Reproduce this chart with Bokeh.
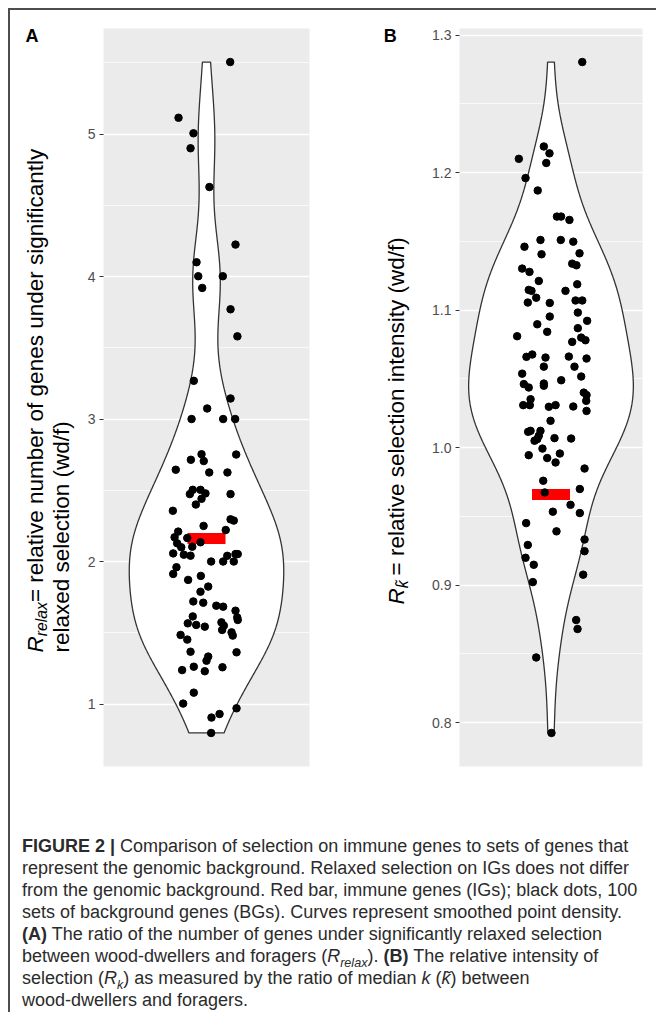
import numpy as np
from bokeh.plotting import figure
from bokeh.models import FixedTicker, Div, Spacer, Range1d
from bokeh.core.properties import value
from bokeh.layouts import row, column
from bokeh.embed import file_html
from bokeh.resources import INLINE

# ---------------- data ----------------
# Panel A: R_relax for 100 background gene sets (BGs) + immune genes (IGs)
a_values = [5.505, 5.114, 5.005, 4.90, 4.628, 4.224, 4.10, 4.002, 4.002, 3.92,
            3.77, 3.58, 3.268, 3.144, 3.074, 3.0, 3.0, 3.0, 2.751, 2.753,
            2.714, 2.705, 2.644, 2.625, 2.625, 2.473, 2.503, 2.503, 2.478, 2.44,
            2.40, 2.473, 2.356, 2.296, 2.287, 2.25, 2.221, 2.21, 2.17, 2.165,
            2.135, 2.128, 2.10, 2.104, 2.057, 2.048, 2.041, 2.0, 2.0, 2.04,
            2.052, 2.052, 2.0, 1.96, 1.913, 1.871, 1.899, 1.824, 1.788, 1.72,
            1.711, 1.69, 1.683, 1.655, 1.615, 1.608, 1.59, 1.566, 1.555, 1.543,
            1.573, 1.55, 1.52, 1.503, 1.48, 1.485, 1.452, 1.367, 1.363, 1.333,
            1.304, 1.262, 1.238, 1.23, 1.258, 1.08, 1.003, 0.97, 0.93, 0.905,
            0.797]
a_jitter = [0.138, -0.163, -0.076, -0.093, 0.017, 0.169, -0.058, -0.048, 0.095, -0.025,
            0.14, 0.18, -0.074, 0.14, 0.004, -0.087, 0.097, 0.167, 0.173, -0.029,
            -0.091, -0.016, -0.179, 0.016, 0.122, -0.097, -0.08, -0.035, -0.006, -0.029,
            -0.062, 0.14, -0.196, 0.14, 0.159, -0.017, 0.112, -0.165, -0.186, -0.112,
            -0.035, -0.171, -0.147, -0.083, -0.194, -0.132, -0.093, 0.027, 0.097, 0.121,
            0.169, 0.182, 0.159, -0.175, -0.194, -0.107, -0.033, 0.01, -0.035, -0.077,
            -0.019, 0.057, 0.097, 0.169, -0.08, 0.179, 0.182, -0.109, -0.06, -0.01,
            0.087, 0.101, 0.091, 0.146, 0.153, -0.151, -0.112, -0.093, 0.175, 0.01,
            0.0, -0.074, -0.142, -0.01, 0.093, -0.074, -0.136, 0.175, 0.076, 0.029,
            0.027]
a_ig_value = 2.162
a_ticks = [1, 2, 3, 4, 5]
a_tick_labels = ["1", "2", "3", "4", "5"]
a_minor_ticks = [0.5, 1.5, 2.5, 3.5, 4.5, 5.5]

# Panel B: R_k~ for background gene sets + immune genes
b_values = [1.2804, 1.210, 1.219, 1.214, 1.207, 1.196, 1.187, 1.168, 1.168, 1.1656,
            1.151, 1.151, 1.1498, 1.1461, 1.1406, 1.1413, 1.1302, 1.1278, 1.1212, 1.1188,
            1.1147, 1.114, 1.114, 1.109, 1.1052, 1.107, 1.107, 1.1338, 1.1326, 1.1055,
            1.0922, 1.0982, 1.0897, 1.0953, 1.0842, 1.0869, 1.081, 1.0769, 1.08, 1.0781,
            1.066, 1.0677, 1.0655, 1.0662, 1.0648, 1.0589, 1.0589, 1.0538, 1.0517, 1.049,
            1.0462, 1.0437, 1.0466, 1.045, 1.040, 1.0382, 1.034, 1.0309, 1.0309, 1.0352,
            1.0297, 1.0309, 1.0299, 1.0267, 1.0195, 1.0115, 1.0122, 1.0122, 1.0086, 1.005,
            1.0062, 1.0069, 1.0066, 0.9993, 0.9945, 0.9957, 0.9924, 0.9892, 0.9848, 0.9759,
            0.9699, 0.9674, 0.9584, 0.9534, 0.9524, 0.9451, 0.9391, 0.9332, 0.9292, 0.9247,
            0.9199, 0.9148, 0.9076, 0.9022, 0.8746, 0.8681, 0.8474, 0.7925]
b_jitter = [0.205, -0.211, -0.047, -0.01, -0.031, -0.167, -0.087, 0.039, 0.066, 0.121,
            -0.069, 0.064, 0.146, -0.174, -0.062, 0.187, -0.189, -0.141, -0.08, 0.172,
            -0.146, -0.128, 0.095, -0.097, -0.008, 0.161, 0.205, 0.139, 0.167, -0.152,
            0.237, 0.176, -0.09, -0.008, -0.025, 0.176, -0.222, 0.139, 0.198, 0.226,
            -0.161, -0.123, -0.036, 0.117, 0.233, -0.047, 0.154, -0.189, 0.198, 0.067,
            -0.178, -0.146, -0.047, -0.047, 0.215, 0.233, 0.231, -0.182, -0.139, -0.134,
            -0.014, 0.03, 0.146, 0.233, -0.003, -0.15, -0.134, -0.069, -0.08, -0.108,
            -0.09, 0.023, 0.132, -0.056, -0.146, 0.058, -0.025, 0.03, 0.22, -0.051,
            0.189, -0.041, 0.128, 0.012, 0.189, -0.163, 0.036, 0.22, -0.152, 0.22,
            -0.167, -0.113, 0.211, -0.119, 0.165, 0.174, -0.097, 0.003]
b_ig_value = 0.966
b_ticks = [0.8, 0.9, 1.0, 1.1, 1.2, 1.3]
b_tick_labels = ["0.8", "0.9", "1.0", "1.1", "1.2", "1.3"]
b_minor_ticks = [0.75, 0.85, 0.95, 1.05, 1.15, 1.25]

CAT = 1.0  # the single category position on x

# ---------------- layout constants (page pixels) ----------------
FIG_H = 765
BORDER_TOP = 18
BORDER_BOTTOM = 9
PAGE_TOP = 10  # page y of the top of the panel row
FONT = "Liberation Sans"
TITLE_SIZE = 22.5
SUB_SIZE = TITLE_SIZE * 0.7
R_W = 0.722 * TITLE_SIZE
MID = 0.33  # distance from baseline to the middle of the text, in em


def violin_outline(values, half_width, n=512):
    v = np.asarray(values, dtype=float)
    sd = v.std(ddof=1)
    q75, q25 = np.percentile(v, [75, 25])
    bw = 0.9 * min(sd, (q75 - q25) / 1.34) * len(v) ** -0.2
    ys = np.linspace(v.min(), v.max(), n)
    d = np.exp(-0.5 * ((ys[:, None] - v[None, :]) / bw) ** 2).sum(axis=1)
    w = half_width * d / d.max()
    xs = np.concatenate([CAT + w, (CAT - w)[::-1]])
    yy = np.concatenate([ys, ys[::-1]])
    return xs, yy


def make_panel(values, jitter, ig_value, ticks, tick_labels, minor_ticks,
               half_width, width, border_left, border_right):
    v = np.asarray(values, dtype=float)
    lo, hi = v.min(), v.max()
    pad = 0.05 * (hi - lo)
    p = figure(width=width, height=FIG_H, x_range=(0.4, 1.6),
               y_range=(lo - pad, hi + pad), title=None,
               x_axis_location=None, toolbar_location=None, output_backend="svg",
               min_border_left=border_left, min_border_right=border_right,
               min_border_top=BORDER_TOP, min_border_bottom=BORDER_BOTTOM,
               outline_line_color=None, background_fill_color="#EBEBEB",
               border_fill_color="white")
    ticker = FixedTicker(ticks=ticks, minor_ticks=minor_ticks)
    p.yaxis.ticker = ticker
    p.ygrid.ticker = ticker
    p.yaxis.major_label_overrides = {t: l for t, l in zip(ticks, tick_labels)}
    p.yaxis.axis_line_color = None
    p.yaxis.major_tick_out = 4
    p.yaxis.major_tick_in = 0
    p.yaxis.minor_tick_out = 0
    p.yaxis.minor_tick_in = 0
    p.yaxis.major_tick_line_color = "#333333"
    p.yaxis.major_tick_line_width = 1.1
    p.yaxis.major_label_standoff = 4
    p.yaxis.major_label_text_font = FONT
    p.yaxis.major_label_text_font_size = "14px"
    p.yaxis.major_label_text_color = "#4D4D4D"
    p.xgrid.visible = False
    p.ygrid.grid_line_color = "white"
    p.ygrid.grid_line_width = 1.3
    p.ygrid.minor_grid_line_color = "white"
    p.ygrid.minor_grid_line_width = 0.7

    xs, yy = violin_outline(values, half_width)
    p.patch(xs, yy, fill_color="white", line_color="#333333", line_width=1.3)
    p.rect(x=[CAT], y=[ig_value], width=38, height=11, width_units="screen",
           height_units="screen", fill_color="#FF0000", line_color=None)
    p.scatter(x=CAT + np.asarray(jitter), y=v, size=7.5, color="black")
    return p


def make_strip(width, page_left):
    """White strip left of a panel that carries its letter and y-axis title.
    Its ranges are page pixels, so texts are placed by page position."""
    top = PAGE_TOP + BORDER_TOP
    bottom = PAGE_TOP + FIG_H - BORDER_BOTTOM
    s = figure(width=width, height=FIG_H,
               x_range=Range1d(page_left, page_left + width),
               y_range=Range1d(bottom, top), title=None, x_axis_location=None,
               y_axis_location=None, toolbar_location=None, output_backend="svg",
               min_border_left=0, min_border_right=0,
               min_border_top=BORDER_TOP, min_border_bottom=BORDER_BOTTOM,
               outline_line_color=None,
               background_fill_color="white", border_fill_color="white")
    s.grid.visible = False

    def add(px, py, text, size=TITLE_SIZE, style="normal", rotated=True):
        # (px, py) is the start of the text on its baseline; the glyph is
        # anchored at the middle of the text box
        if rotated:
            ax, ay, ang = px - MID * size, py, np.pi / 2
        else:
            ax, ay, ang = px, py - MID * size, 0.0
        s.text(x=[ax], y=[ay], text=[text], angle=ang,
               text_align="left", text_baseline="middle",
               text_font=value(FONT), text_font_size=f"{size}px",
               text_font_style=style, text_color="black")
    return s, add


# ---------------- panel A ----------------
strip_a, add_a = make_strip(73, page_left=10)
add_a(25, 41.7, "A", size=18, style="bold", rotated=False)
add_a(42.5, 652, "R", style="italic")
add_a(46.5, 652 - R_W, "relax", size=SUB_SIZE, style="italic")
add_a(42.5, 652 - R_W - 2.167 * SUB_SIZE,
      " = relative number of genes under significantly")
add_a(68.5, 652, "relaxed selection (wd/f)")
pa = make_panel(a_values, a_jitter, a_ig_value, a_ticks, a_tick_labels,
                a_minor_ticks, half_width=0.45, width=247,
                border_left=20, border_right=21)

# ---------------- panel B ----------------
strip_b, add_b = make_strip(95, page_left=330)
add_b(383.3, 41.7, "B", size=18, style="bold", rotated=False)
add_b(403.0, 604, "R", style="italic")
add_b(407.0, 604 - R_W, "k\u0303", size=SUB_SIZE, style="italic")
add_b(403.0, 575, "= relative selection intensity (wd/f)")
pb = make_panel(b_values, b_jitter, b_ig_value, b_ticks, b_tick_labels,
                b_minor_ticks, half_width=0.54, width=231,
                border_left=34, border_right=14)

# ---------------- frame lines and caption ----------------
LINE_C = "#4D4D4D"


def bar_div(w, h):
    return Div(text="", width=w, height=h, margin=0,
               styles={"background-color": LINE_C})


SUBSTYLE = "font-size:0.7em;line-height:0;"
caption_html = (
    "<div style=\"font-family:'Liberation Sans',Arial,sans-serif;font-size:18px;"
    "line-height:22px;color:#2b2b2b;white-space:nowrap;padding-left:12px;"
    "padding-top:60px;margin:0;\">"
    "<b>FIGURE 2 |</b> Comparison of selection on immune genes to sets of genes that<br>"
    "represent the genomic background. Relaxed selection on IGs does not differ<br>"
    "from the genomic background. Red bar, immune genes (IGs); black dots, 100<br>"
    "sets of background genes (BGs). Curves represent smoothed point density.<br>"
    "<b>(A)</b> The ratio of the number of genes under significantly relaxed selection<br>"
    f"between wood-dwellers and foragers (<i>R<sub style=\"{SUBSTYLE}\">relax</sub></i>). "
    "<b>(B)</b> The relative intensity of<br>"
    f"selection (<i>R<sub style=\"{SUBSTYLE}\">k</sub></i>) as measured by the ratio of "
    "median <i>k</i> (<i>k\u0303</i>) between<br>"
    "wood-dwellers and foragers."
    "</div>"
)
caption = Div(text=caption_html, width=646, height=237, margin=0)

layout = column(
    Spacer(width=656, height=8),
    row(
        Spacer(width=8, height=1004),
        column(
            bar_div(648, 2),
            row(
                bar_div(2, 1002),
                column(row(strip_a, pa, strip_b, pb), caption),
            ),
        ),
    ),
)

open("out.html", "w").write(file_html(layout, INLINE))
